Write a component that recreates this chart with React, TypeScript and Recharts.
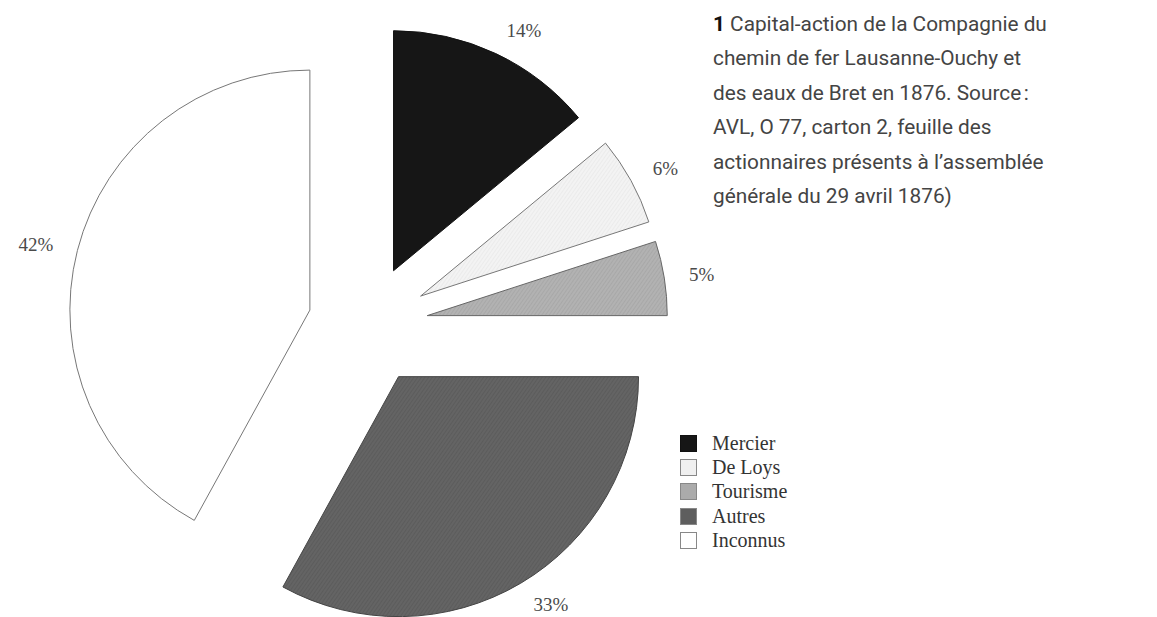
import { PieChart, Pie, Cell, Legend } from "recharts";

const categories = ["Mercier", "De Loys", "Tourisme", "Autres", "Inconnus"];
const shares = [14, 6, 5, 33, 42];

const fills = ["#161616", "url(#hatchLoys)", "url(#hatchTourisme)", "url(#hatchAutres)", "#ffffff"];
const swatches = ["#161616", "#f0f0f0", "#ababab", "#5e5e5e", "#ffffff"];
const strokes = ["#111111", "#777777", "#666666", "#444444", "#777777"];

const data = categories.map((name, i) => ({ name, value: shares[i] }));

// pie centre before exploding, radius and explode distance
const CX = 368;
const CY = 325;
const R = 240;
const EXPLODE = 60;
const RAD = Math.PI / 180;

const total = shares.reduce((a, b) => a + b, 0);

// centre of each exploded slice, pushed out along its mid angle
const offsets = shares.map((v, i) => {
  const before = shares.slice(0, i).reduce((a, b) => a + b, 0);
  const mid = ((before + v / 2) / total) * 360; // clockwise from top
  return {
    cx: CX + EXPLODE * Math.sin(mid * RAD),
    cy: CY - EXPLODE * Math.cos(mid * RAD),
  };
});

const makeLabel = (only: number) => (props: any) => {
  const { cx, cy, midAngle, outerRadius, index, value } = props;
  if (index !== only) return null;
  const r = outerRadius + 25;
  const x = cx + r * Math.cos(-midAngle * RAD);
  const y = cy + r * Math.sin(-midAngle * RAD);
  return (
    <text
      x={x}
      y={y}
      textAnchor={x > cx ? "start" : "end"}
      dominantBaseline="central"
      fill="#4a4a4a"
      fontSize={19}
      fontFamily="'Liberation Serif', serif"
    >
      {`${value}%`}
    </text>
  );
};

const renderLegend = () => (
  <div style={{ fontFamily: "'Liberation Serif', serif", fontSize: 20, color: "#333" }}>
    {categories.map((c, i) => (
      <div key={c} style={{ display: "flex", alignItems: "center", height: 24.3 }}>
        <span
          style={{
            display: "inline-block",
            width: 15,
            height: 15,
            background: swatches[i],
            border: `1px solid ${i === 0 ? "#111" : "#888"}`,
            marginRight: 15,
          }}
        />
        {c}
      </div>
    ))}
  </div>
);

export default function App() {
  return (
    <div
      style={{
        position: "absolute",
        left: 0,
        top: 0,
        width: 1157,
        height: 617,
        background: "#fff",
      }}
    >
      <PieChart width={1157} height={617} margin={{ top: 0, right: 0, bottom: 0, left: 0 }}>
        <defs>
          <pattern id="hatchLoys" width="3" height="3" patternUnits="userSpaceOnUse" patternTransform="rotate(35)">
            <rect width="3" height="3" fill="#f3f3f3" />
            <line x1="0" y1="0" x2="0" y2="3" stroke="#e4e4e4" strokeWidth="1" />
          </pattern>
          <pattern id="hatchTourisme" width="3" height="3" patternUnits="userSpaceOnUse" patternTransform="rotate(35)">
            <rect width="3" height="3" fill="#b2b2b2" />
            <line x1="0" y1="0" x2="0" y2="3" stroke="#9e9e9e" strokeWidth="1" />
          </pattern>
          <pattern id="hatchAutres" width="3" height="3" patternUnits="userSpaceOnUse" patternTransform="rotate(35)">
            <rect width="3" height="3" fill="#646464" />
            <line x1="0" y1="0" x2="0" y2="3" stroke="#545454" strokeWidth="1" />
          </pattern>
        </defs>
        {offsets.map((o, k) => (
          <Pie
            key={categories[k]}
            data={data}
            dataKey="value"
            nameKey="name"
            cx={o.cx}
            cy={o.cy}
            outerRadius={R}
            startAngle={90}
            endAngle={-270}
            label={makeLabel(k)}
            labelLine={false}
            isAnimationActive={false}
          >
            {data.map((d, i) => (
              <Cell
                key={d.name}
                fill={i === k ? fills[i] : "transparent"}
                stroke={i === k ? strokes[i] : "none"}
                strokeWidth={1}
              />
            ))}
          </Pie>
        ))}
        <Legend
          layout="vertical"
          content={renderLegend}
          wrapperStyle={{ position: "absolute", left: 680, top: 431, width: 200 }}
        />
      </PieChart>
      <div
        style={{
          position: "absolute",
          left: 713,
          top: 7,
          width: 440,
          fontFamily: "Roboto, 'Open Sans', sans-serif",
          fontSize: 20.8,
          lineHeight: "34.4px",
          color: "#444",
        }}
      >
        <b style={{ color: "#111" }}>1</b> Capital-action de la Compagnie du
        <br />
        chemin de fer Lausanne-Ouchy et
        <br />
        des eaux de Bret en 1876. Source&#8239;:
        <br />
        AVL, O 77, carton 2, feuille des
        <br />
        actionnaires présents à l’assemblée
        <br />
        générale du 29 avril 1876)
      </div>
    </div>
  );
}
